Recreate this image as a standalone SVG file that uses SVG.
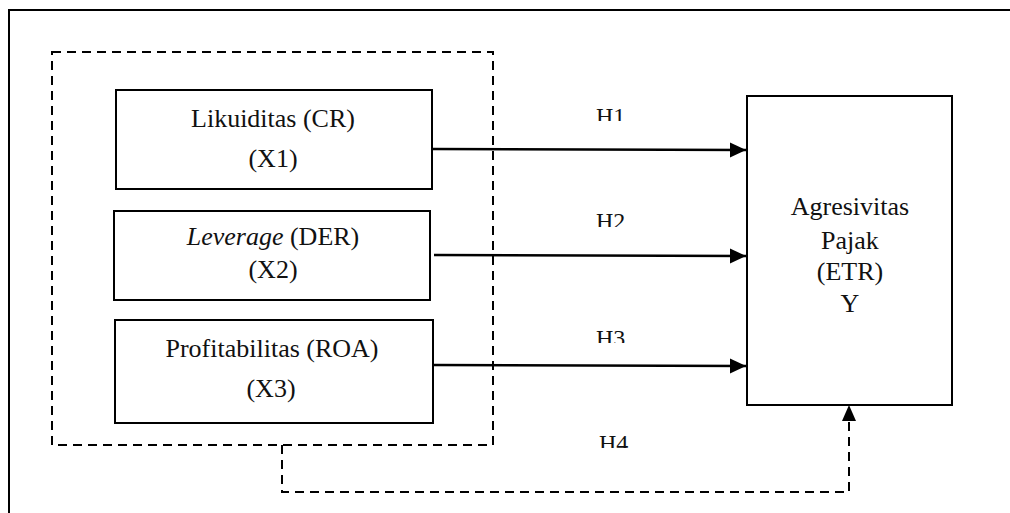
<svg xmlns="http://www.w3.org/2000/svg" width="1010" height="513" viewBox="0 0 1010 513">
<style>
.box{fill:#fff;stroke:#000;stroke-width:2}
.t{font-family:"Liberation Serif","Times New Roman",serif;font-size:26px;fill:#111;text-anchor:middle}
.h{font-family:"Liberation Serif","Times New Roman",serif;font-size:24px;fill:#111}
.ln{stroke:#000;stroke-width:2.5;fill:none}
.dash{stroke:#000;stroke-width:2;fill:none;stroke-dasharray:9 6}
</style>
<defs>
<marker id="arr" markerUnits="userSpaceOnUse" markerWidth="16" markerHeight="16" refX="16" refY="8" orient="auto">
<path d="M0,0.5 L16,8 L0,15.5 Z" fill="#000"/>
</marker>
<clipPath id="c1"><rect x="580" y="100" width="60" height="21"/></clipPath>
<clipPath id="c2"><rect x="580" y="205" width="60" height="22"/></clipPath>
<clipPath id="c3"><rect x="580" y="322" width="60" height="21"/></clipPath>
<clipPath id="c4"><rect x="580" y="427" width="60" height="21"/></clipPath>
</defs>
<rect x="9" y="10" width="1020" height="520" fill="#fff" stroke="#000" stroke-width="2"/>
<g id="group-x">
<rect x="52" y="52" width="441" height="393" class="dash"/>
</g>
<g id="node-x1">
<rect x="116" y="90" width="316" height="99" class="box"/>
<text class="t" x="273" y="127">Likuiditas (CR)</text>
<text class="t" x="273" y="167">(X1)</text>
</g>
<g id="node-x2">
<rect x="114" y="211" width="316" height="89" class="box"/>
<text class="t" x="273" y="245"><tspan font-style="italic">Leverage</tspan> (DER)</text>
<text class="t" x="273" y="278">(X2)</text>
</g>
<g id="node-x3">
<rect x="115" y="320" width="318" height="103" class="box"/>
<text class="t" x="272" y="357">Profitabilitas (ROA)</text>
<text class="t" x="271" y="397">(X3)</text>
</g>
<g id="node-y">
<rect x="747" y="96" width="205" height="309" class="box"/>
<text class="t" x="850" y="215">Agresivitas</text>
<text class="t" x="850" y="249">Pajak</text>
<text class="t" x="850" y="280">(ETR)</text>
<text class="t" x="850" y="312">Y</text>
</g>
<g id="connectors">
<line x1="432" y1="149" x2="746" y2="150" class="ln" marker-end="url(#arr)"/>
<line x1="434" y1="255" x2="746" y2="256" class="ln" marker-end="url(#arr)"/>
<line x1="434" y1="365" x2="746" y2="366" class="ln" marker-end="url(#arr)"/>
<path d="M282,445 V492 H849 V420" class="dash"/>
<path d="M849,405 L856,421 L842,421 Z" fill="#000"/>
</g>
<g id="labels">
<text class="h" x="596" y="124" clip-path="url(#c1)">H1</text>
<text class="h" x="596" y="229" clip-path="url(#c2)">H2</text>
<text class="h" x="596" y="346" clip-path="url(#c3)">H3</text>
<text class="h" x="599" y="451" clip-path="url(#c4)">H4</text>
</g>
</svg>
